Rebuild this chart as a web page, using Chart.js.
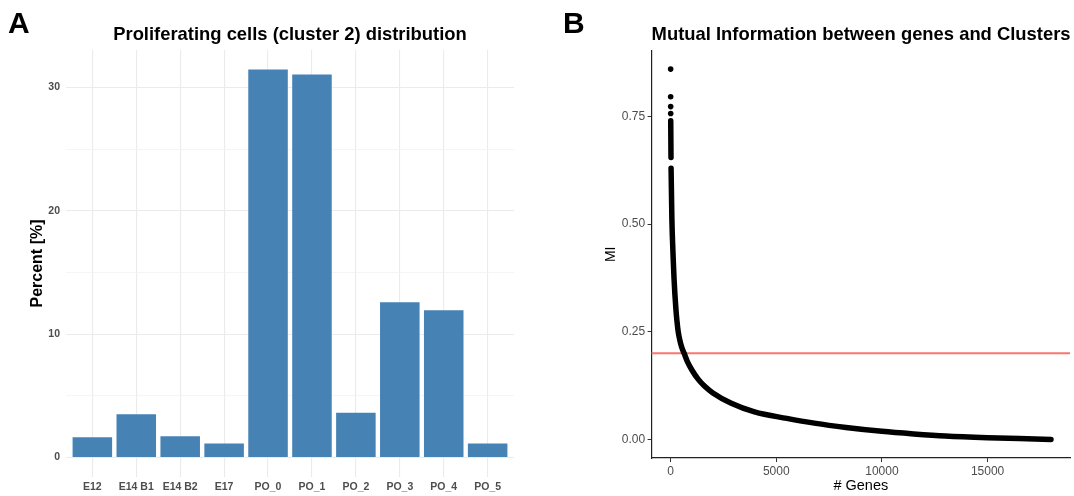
<!DOCTYPE html>
<html>
<head>
<meta charset="utf-8">
<script src="https://cdn.jsdelivr.net/npm/chart.js@4"></script>
<style>
  html, body { margin:0; padding:0; background:#fff; }
  #wrap { position:relative; width:1074px; height:496px; overflow:hidden; }
  canvas { position:absolute; top:0; }
  #cA { left:0; }
  #cB { left:540px; }
</style>
</head>
<body>
<div id="wrap">
  <canvas id="cA" width="540" height="496"></canvas>
  <canvas id="cB" width="534" height="496"></canvas>
</div>
<script>
// A: share of proliferating cells per sample
const categories   = ['E12', 'E14 B1', 'E14 B2', 'E17', 'PO_0', 'PO_1', 'PO_2', 'PO_3', 'PO_4', 'PO_5'];
const percents     = [1.65, 3.52, 1.73, 1.14, 31.45, 31.04, 3.63, 12.58, 11.93, 1.14];
const percentTicks = [0, 5, 10, 15, 20, 25, 30];

// B: mutual information of ranked genes
const topGeneRank = [1, 2, 3, 4];
const topGeneMI   = [0.860, 0.796, 0.773, 0.757];
const curveRank   = [5, 18, 20, 22, 60, 90, 125, 160, 200, 250, 300, 360, 430, 520, 640, 800, 1000, 1300, 1600, 2000, 2870, 3970, 5500, 6800, 8300, 10000, 11500, 13000, 15000, 16500, 18000];
const curveMI     = [0.740, 0.655, null, 0.630, 0.512, 0.462, 0.417, 0.375, 0.339, 0.303, 0.275, 0.250, 0.232, 0.215, 0.200, 0.180, 0.162, 0.140, 0.124, 0.108, 0.084, 0.064, 0.049, 0.038, 0.028, 0.019, 0.013, 0.008, 0.004, 0.002, 0.000];
const miTicks     = [0, 0.25, 0.5, 0.75];
const geneTicks   = [0, 5000, 10000, 15000];
const miThreshold = 0.2;

const FONT = "'Liberation Sans', Arial, Helvetica, sans-serif";

// panel letter + title
const panelDeco = {
  id: 'panelDeco',
  afterDraw(chart, args, o) {
    const { ctx, chartArea: a } = chart;
    ctx.save();
    ctx.fillStyle = '#000';
    ctx.textBaseline = 'alphabetic';
    ctx.textAlign = 'left';
    ctx.font = `bold 30px ${FONT}`;
    ctx.fillText(o.letter, o.letterX, 33);
    ctx.font = `bold 18.4px ${FONT}`;
    if (o.center) {
      ctx.textAlign = 'center';
      ctx.fillText(o.title, (a.left + a.right) / 2, 40);
    } else {
      ctx.fillText(o.title, a.left, 40);
    }
    ctx.restore();
  }
};

// horizontal cut-off line, under the points
const hLine = {
  id: 'hLine',
  beforeDatasetsDraw(chart, args, o) {
    const { ctx, chartArea: a, scales } = chart;
    const y = scales.y.getPixelForValue(o.value);
    ctx.save();
    ctx.strokeStyle = o.color;
    ctx.lineWidth = o.width;
    ctx.beginPath();
    ctx.moveTo(a.left, y);
    ctx.lineTo(a.right, y);
    ctx.stroke();
    ctx.restore();
  }
};

//
// A. bar chart
//
const pMax = Math.max(...percents);
new Chart(document.getElementById('cA'), {
  type: 'bar',
  data: {
    datasets: [{
      data: percents.map((v, i) => ({ x: i + 1, y: v })),
      backgroundColor: '#4682B4',
      borderWidth: 0,
      barPercentage: 0.9,
      categoryPercentage: 1.0
    }]
  },
  options: {
    responsive: false,
    animation: false,
    devicePixelRatio: 1,
    layout: { padding: { top: 50, right: 26, left: 0, bottom: 0 } },
    plugins: {
      legend: { display: false },
      tooltip: { enabled: false },
      panelDeco: { letter: 'A', letterX: 8, title: 'Proliferating cells (cluster 2) distribution', center: true }
    },
    scales: {
      x: {
        type: 'linear',
        offset: false,
        min: 0.4, max: 10.6,
        afterBuildTicks: s => { s.ticks = categories.map((c, i) => ({ value: i + 1 })); },
        afterFit: s => { s.height = 19; },
        grid: { color: '#EBEBEB', lineWidth: 1.1, drawTicks: false, offset: false },
        border: { display: false },
        ticks: {
          autoSkip: false, maxRotation: 0, padding: 4,
          color: '#4D4D4D', font: { family: FONT, size: 10.5, weight: 'bold' },
          callback: v => categories[v - 1]
        }
      },
      y: {
        min: -pMax * 0.05, max: pMax * 1.05,
        afterBuildTicks: s => { s.ticks = percentTicks.map(v => ({ value: v })); },
        afterFit: s => { s.width = 66; },
        grid: {
          drawTicks: false,
          color: c => (c.tick && c.tick.value % 10 === 0) ? '#EBEBEB' : '#F3F3F3',
          lineWidth: c => (c.tick && c.tick.value % 10 === 0) ? 1.1 : 0.8
        },
        border: { display: false },
        ticks: {
          padding: 6, color: '#4D4D4D', font: { family: FONT, size: 10.5, weight: 'bold' },
          callback: v => (v % 10 === 0 ? String(v) : '')
        },
        title: {
          display: true, text: 'Percent [%]', color: '#000',
          font: { family: FONT, size: 16, weight: 'bold' },
          padding: { top: 28, bottom: 0 }
        }
      }
    }
  },
  plugins: [panelDeco]
});

//
// B. MI scatter
//
const rMin = 0, rMax = curveRank[curveRank.length - 1];
const miMax = Math.max(...topGeneMI);
new Chart(document.getElementById('cB'), {
  type: 'scatter',
  data: {
    datasets: [
      {
        type: 'line',
        data: curveRank.map((r, i) => ({ x: r, y: curveMI[i] })),
        borderColor: '#000',
        borderWidth: 5.5,
        borderCapStyle: 'round',
        borderJoinStyle: 'round',
        cubicInterpolationMode: 'monotone',
        spanGaps: false,
        pointRadius: 0,
        fill: false
      },
      {
        data: topGeneRank.map((r, i) => ({ x: r, y: topGeneMI[i] })),
        backgroundColor: '#000',
        borderWidth: 0,
        pointRadius: 2.8
      }
    ]
  },
  options: {
    responsive: false,
    animation: false,
    devicePixelRatio: 1,
    layout: { padding: { top: 50.6, right: 2, left: 0, bottom: 0 } },
    plugins: {
      legend: { display: false },
      tooltip: { enabled: false },
      panelDeco: { letter: 'B', letterX: 23, title: 'Mutual Information between genes and Clusters', center: false },
      hLine: { value: miThreshold, color: '#F8766D', width: 2 }
    },
    scales: {
      x: {
        type: 'linear',
        min: rMin - (rMax - rMin) * 0.05, max: rMax + (rMax - rMin) * 0.05,
        afterBuildTicks: s => { s.ticks = geneTicks.map(v => ({ value: v })); },
        afterFit: s => { s.height = 38; },
        grid: { drawOnChartArea: false, drawTicks: true, tickLength: 4, color: '#333', lineWidth: 1 },
        border: { display: true, color: '#222', width: 1.2 },
        ticks: {
          autoSkip: false, maxRotation: 0, padding: 2,
          color: '#4D4D4D', font: { family: FONT, size: 12 },
          callback: v => String(v)
        },
        title: {
          display: true, text: '# Genes', color: '#000',
          font: { family: FONT, size: 14.5 },
          padding: { top: 0, bottom: 1.5 }
        }
      },
      y: {
        min: -miMax * 0.05, max: miMax * 1.05,
        afterBuildTicks: s => { s.ticks = miTicks.map(v => ({ value: v })); },
        afterFit: s => { s.width = 111.6; },
        grid: { drawOnChartArea: false, drawTicks: true, tickLength: 4, color: '#333', lineWidth: 1 },
        border: { display: true, color: '#222', width: 1.2 },
        ticks: {
          padding: 2.5, color: '#4D4D4D', font: { family: FONT, size: 12 },
          callback: v => v.toFixed(2)
        },
        title: {
          display: true, text: 'MI', color: '#000',
          font: { family: FONT, size: 14 },
          padding: { top: 63, bottom: 0 }
        }
      }
    }
  },
  plugins: [panelDeco, hLine]
});
</script>
</body>
</html>
